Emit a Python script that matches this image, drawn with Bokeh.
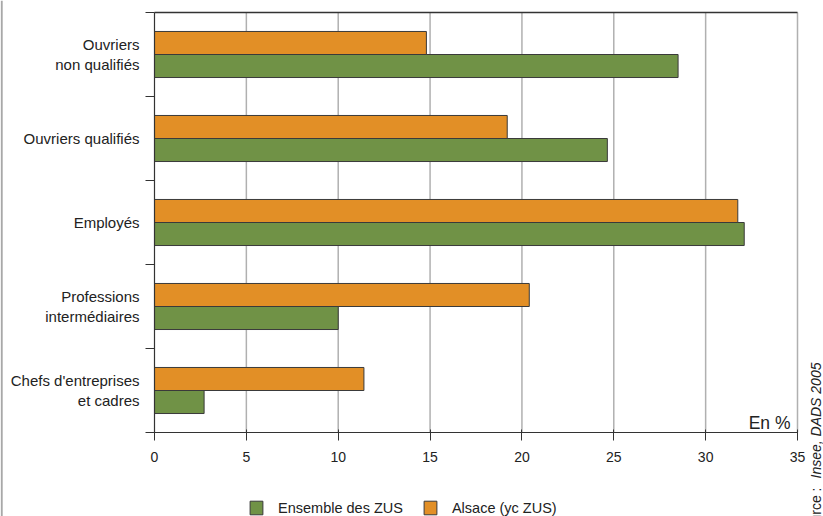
import math
from bokeh.plotting import figure
from bokeh.models import (ColumnDataSource, FixedTicker, Range1d, Span, Label,
                          Legend, LegendItem)
from bokeh.embed import file_html
from bokeh.resources import INLINE

# ---- data (bottom to top) ----
categories = ["Chefs d'entreprises\net cadres",
              "Professions\nintermédiaires",
              "Employés",
              "Ouvriers qualifiés",
              "Ouvriers\nnon qualifiés"]
ensemble_zus = [2.7, 10.0, 32.1, 24.65, 28.5]
alsace_yc_zus = [11.4, 20.4, 31.75, 19.2, 14.8]
x_ticks = [0, 5, 10, 15, 20, 25, 30, 35]
series_names = ["Ensemble des ZUS", "Alsace (yc ZUS)"]
unit_text = "En %"
source_prefix = "Source :"
source_body = "Insee, DADS 2005"

FONT = "Liberation Sans"
GREEN = "#709246"
ORANGE = "#e28f26"
EDGE = "#3a3a3a"
DARK = "#333333"
TXT = "#222222"

W, H = 823, 516
# pixel layout of the plotting area inside the canvas
LEFT_PX, RIGHT_PX, TOP_PX, BOTTOM_PX = 154, 797, 12, 432

x0, x1 = x_ticks[0], x_ticks[-1]
n = len(categories)
pxu_x = (RIGHT_PX - LEFT_PX) / (x1 - x0)
pxu_y = (BOTTOM_PX - TOP_PX) / n
x_range = Range1d(x0 - LEFT_PX / pxu_x, x1 + (W - RIGHT_PX) / pxu_x)
y_range = Range1d(0 - (H - BOTTOM_PX) / pxu_y, n + TOP_PX / pxu_y)

idx = list(range(n))
bar_h = 0.274
src_zus = ColumnDataSource(dict(y=[i + 0.5 - bar_h / 2 for i in idx], right=ensemble_zus))
src_als = ColumnDataSource(dict(y=[i + 0.5 + bar_h / 2 for i in idx], right=alsace_yc_zus))

p = figure(width=W, height=H, x_range=x_range, y_range=y_range,
           output_backend="svg", toolbar_location=None,
           min_border_left=0, min_border_right=0,
           min_border_top=0, min_border_bottom=0)
p.outline_line_color = None
p.background_fill_color = "white"
p.xgrid.visible = False
p.ygrid.visible = False

# vertical grid lines (5..35) limited to plotting area
grid_x = x_ticks[1:]
p.segment(x0=grid_x, x1=grid_x, y0=[0] * len(grid_x), y1=[n] * len(grid_x),
          line_color="#b0b0b0", line_width=1.5)
# top line
p.segment(x0=[x0], x1=[x1], y0=[n], y1=[n], line_color=DARK, line_width=1.5)

r_zus = p.hbar(y="y", right="right", left=0, height=bar_h, source=src_zus,
               fill_color=GREEN, line_color=EDGE, line_width=1)
r_als = p.hbar(y="y", right="right", left=0, height=bar_h, source=src_als,
               fill_color=ORANGE, line_color=EDGE, line_width=1)

# left frame line of the original picture
p.add_layout(Span(location=x_range.start + 1.2 / pxu_x, dimension="height",
                  line_color="#a8a8a8", line_width=2))

# x axis
xa = p.xaxis[0]
xa.fixed_location = 0
xa.bounds = (x0, x1)
xa.ticker = FixedTicker(ticks=x_ticks)
xa.axis_line_color = DARK
xa.axis_line_width = 1.2
xa.major_tick_line_color = DARK
xa.major_tick_in = 3
xa.major_tick_out = 8
xa.minor_tick_line_color = None
xa.major_label_text_font = FONT
xa.major_label_text_font_size = "14px"
xa.major_label_text_color = TXT
xa.major_label_standoff = 11

# y axis
ya = p.yaxis[0]
ya.fixed_location = 0
ya.bounds = (0, n)
ya.ticker = FixedTicker(ticks=[i + 0.5 for i in idx], minor_ticks=list(range(n + 1)))
ya.major_label_overrides = {i + 0.5: c for i, c in zip(idx, categories)}
ya.axis_line_color = DARK
ya.axis_line_width = 1.2
ya.major_tick_line_color = None
ya.major_tick_in = 0
ya.major_tick_out = 0
ya.minor_tick_line_color = DARK
ya.minor_tick_in = 0
ya.minor_tick_out = 9
ya.major_label_text_font = FONT
ya.major_label_text_font_size = "15px"
ya.major_label_text_line_height = 1.2
ya.major_label_text_color = TXT
ya.major_label_standoff = 6

# unit label
p.add_layout(Label(x=x1, y=0, x_offset=-7, y_offset=10, text=unit_text,
                   text_align="right", text_baseline="alphabetic",
                   text_font=FONT, text_font_size="17.5px", text_color=TXT))

# source (rotated)
p.add_layout(Label(x=x1, y=0, x_offset=18, y_offset=-55, angle=math.pi / 2,
                   text=source_prefix, text_align="right", text_baseline="middle",
                   text_font=FONT, text_font_size="14px", text_color=TXT))
p.add_layout(Label(x=x1, y=0, x_offset=18, y_offset=-46, angle=math.pi / 2,
                   text=source_body, text_align="left", text_baseline="middle",
                   text_font=FONT, text_font_size="14px", text_font_style="italic",
                   text_color=TXT))

legend = Legend(items=[LegendItem(label=series_names[0], renderers=[r_zus]),
                       LegendItem(label=series_names[1], renderers=[r_als])],
                orientation="horizontal", location=(248, 0),
                glyph_width=16, glyph_height=17, label_height=17,
                label_standoff=14, spacing=19,
                padding=0, margin=0, border_line_color=None,
                background_fill_alpha=0,
                label_text_font=FONT, label_text_font_size="14.5px",
                label_text_color=TXT)
p.add_layout(legend)

open("out.html", "w").write(file_html(p, INLINE))
